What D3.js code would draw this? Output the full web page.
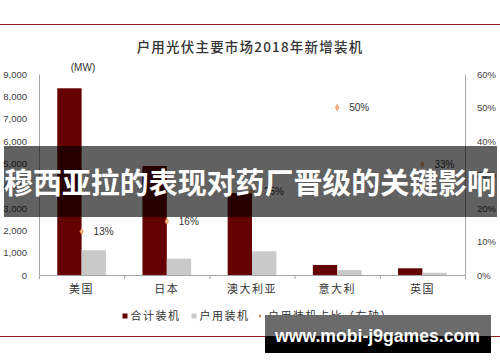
<!DOCTYPE html>
<html><head><meta charset="utf-8">
<script src="https://cdn.jsdelivr.net/npm/d3@7"></script>
<style>html,body{margin:0;padding:0;background:#fff;}svg{display:block;}</style>
</head><body>
<script>
const categories = ["美国","日本","澳大利亚","意大利","英国"];
const seriesNames = ["合计装机","户用装机"];
const totalInstall = [8360, 4880, 3670, 450, 300];
const residentialInstall = [1110, 730, 1060, 220, 100];
const residentialShare = [0.13, 0.16, 0.25, 0.50, 0.33];
const leftTicks = [0,1000,2000,3000,4000,5000,6000,7000,8000,9000];
const rightTicks = [0,0.1,0.2,0.3,0.4,0.5,0.6];
const legendLabels = ["合计装机","户用装机","户用装机占比（右轴）"];
const titleText = "户用光伏主要市场2018年新增装机";
const unitText = "(MW)";
const bannerText = "穆西亚拉的表现对药厂晋级的关键影响";
const watermarkText = "www.mobi-j9games.com";

const W = 500, H = 362;
const CJK = "'Noto Sans CJK SC', sans-serif";
const NUM = "'Liberation Sans', Arial, sans-serif";
const colors = ["#650000", "#c9c9c9"];
const svg = d3.select("body").append("svg").attr("width", W).attr("height", H);

// frame lines
svg.append("line").attr("x1",0).attr("x2",W).attr("y1",24.5).attr("y2",24.5).attr("stroke","#8a2020").attr("stroke-width",1);
svg.append("line").attr("x1",0).attr("x2",W).attr("y1",336.5).attr("y2",336.5).attr("stroke","#8a2020").attr("stroke-width",1);

svg.append("text").attr("x",250).attr("y",52).attr("text-anchor","middle")
  .attr("font-family",CJK).attr("font-size",13.5).attr("font-weight",500).attr("letter-spacing",1.2).attr("fill","#333")
  .text(titleText);

const x0 = d3.scaleBand().domain(categories).range([39,465]).padding(0);
const x1 = d3.scaleBand().domain(seriesNames).range([0, x0.bandwidth()]).paddingInner(0).paddingOuter(0.75);
const yL = d3.scaleLinear().domain([0,9000]).range([275,74]);
const yR = d3.scaleLinear().domain([0,0.6]).range([275,74]);

// axes
const gL = svg.append("g").attr("transform","translate(39,0)")
  .call(d3.axisLeft(yL).tickValues(leftTicks).tickSize(0).tickPadding(12).tickFormat(d3.format(",")));
const gR = svg.append("g").attr("transform","translate(465,0)")
  .call(d3.axisRight(yR).tickValues(rightTicks).tickSize(0).tickPadding(12).tickFormat(d3.format(".0%")));
[gL,gR].forEach(g=>{
  g.select(".domain").attr("stroke","#a6a6a6");
  g.selectAll("text").attr("font-family",NUM).attr("font-size",9.5).attr("fill","#404040");
});

// bars
const data = categories.map((c,i)=>({cat:c, vals:[totalInstall[i], residentialInstall[i]], share:residentialShare[i]}));
const groups = svg.append("g").selectAll("g").data(data).join("g")
  .attr("transform", d=>`translate(${x0(d.cat)},0)`);
groups.selectAll("rect").data(d=>d.vals.map((v,j)=>({s:seriesNames[j], v, j}))).join("rect")
  .attr("x", d=>x1(d.s)).attr("width", x1.bandwidth())
  .attr("y", d=>yL(d.v)).attr("height", d=>yL(0)-yL(d.v))
  .attr("fill", d=>colors[d.j]);

// bottom axis
const gB = svg.append("g").attr("transform","translate(0,275)")
  .call(d3.axisBottom(x0).tickSize(0).tickPadding(10));
gB.select(".domain").attr("stroke","#a6a6a6");
gB.selectAll("text").attr("font-family",CJK).attr("font-size",11).attr("letter-spacing",1.5).attr("fill","#333");
const bounds = categories.map(c=>x0(c)).concat([x0.range()[1]]);
gB.selectAll(".btick").data(bounds).join("line").attr("class","btick")
  .attr("x1",d=>d+0.5).attr("x2",d=>d+0.5).attr("y1",0).attr("y2",4).attr("stroke","#a6a6a6");

// share markers
const cx = d=>x0(d.cat)+x0.bandwidth()/2;
const diamond = d3.symbol().type(d3.symbolDiamond).size(11);
svg.append("g").selectAll("path").data(data).join("path")
  .attr("d", diamond).attr("transform", d=>`translate(${cx(d)},${yR(d.share)})`)
  .attr("fill","#f3b888").attr("stroke","#e0803a").attr("stroke-width",0.6);
svg.append("g").selectAll("text").data(data).join("text")
  .attr("x", d=>cx(d)+12).attr("y", d=>yR(d.share)).attr("dy","0.35em")
  .attr("font-family",NUM).attr("font-size",10).attr("fill","#333")
  .text(d=>d3.format(".0%")(d.share));

svg.append("text").attr("x",83).attr("y",70.5).attr("text-anchor","middle")
  .attr("font-family",NUM).attr("font-size",10).attr("fill","#333").text(unitText);

// legend
const lg = svg.append("g");
const lx = [122.5, 191.5, 258];
const ltx = [130.5, 199.5, 268];
lg.append("rect").attr("x",lx[0]).attr("y",313.5).attr("width",5).attr("height",5).attr("fill",colors[0]);
lg.append("rect").attr("x",lx[1]).attr("y",313.5).attr("width",5).attr("height",5).attr("fill",colors[1]);
lg.append("path").attr("d", d3.symbol().type(d3.symbolDiamond).size(5)).attr("transform",`translate(${lx[2]+2},316)`).attr("fill","#e0803a");
lg.selectAll("text").data(legendLabels).join("text")
  .attr("x",(d,i)=>ltx[i]).attr("y",316).attr("dy","0.35em")
  .attr("font-family",CJK).attr("font-size",11).attr("letter-spacing",1.5).attr("fill","#333")
  .text(d=>d);

// banner overlay
svg.append("rect").attr("x",4).attr("y",146).attr("width",493).attr("height",71).attr("fill","#000").attr("opacity",0.62);
svg.append("text").attr("x",250).attr("y",184).attr("dy","0.36em").attr("text-anchor","middle")
  .attr("font-family",CJK).attr("font-weight","bold").attr("font-size",29).attr("fill","#fff")
  .attr("textLength",492).attr("lengthAdjust","spacingAndGlyphs")
  .text(bannerText);

// watermark
svg.append("rect").attr("x",265).attr("y",315).attr("width",226).attr("height",21).attr("fill","#6b6b6b");
svg.append("rect").attr("x",265).attr("y",336).attr("width",226).attr("height",17).attr("fill","#000");
svg.append("text").attr("x",377.5).attr("y",342).attr("text-anchor","middle")
  .attr("font-family",NUM).attr("font-weight","bold").attr("font-size",18).attr("fill","#fff")
  .attr("textLength",205).attr("lengthAdjust","spacingAndGlyphs")
  .text(watermarkText);
</script>
</body></html>
